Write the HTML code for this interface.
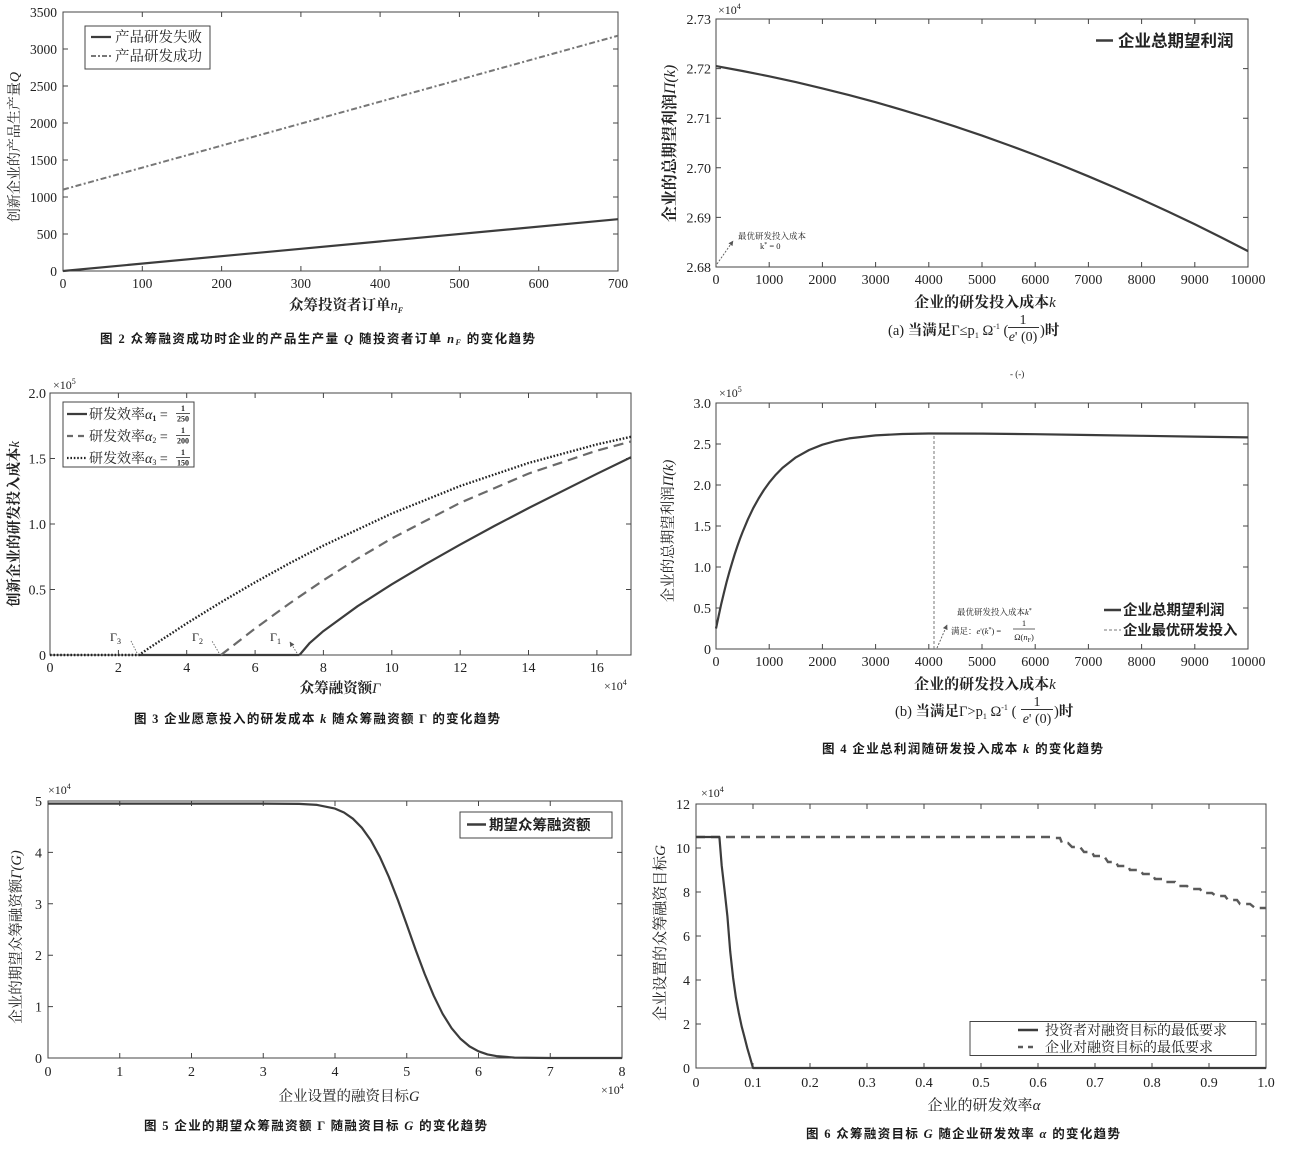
<!DOCTYPE html>
<html><head><meta charset="utf-8">
<style>
html,body{margin:0;padding:0;background:#fff;}
svg{display:block;}
text{font-family:"Liberation Serif","Noto Serif CJK SC",serif;fill:#222;}
.tk{font-size:14px;}
.tk1{font-size:13.5px;}
.cap{font-family:"Liberation Serif","Noto Sans CJK SC",sans-serif;font-weight:bold;font-size:12.5px;fill:#1a1a1a;}
.ax{fill:none;stroke:#444;stroke-width:1;}
.sans{font-family:"Liberation Sans","Noto Sans CJK SC",sans-serif;font-weight:bold;}
.it{font-style:italic;}
.ln{fill:none;stroke:#3c3c3c;stroke-width:2.2;stroke-linejoin:round;}
</style></head><body>
<svg width="1298" height="1164" viewBox="0 0 1298 1164" xmlns="http://www.w3.org/2000/svg">
<defs>
<marker id="ah" markerWidth="5" markerHeight="5" refX="4.5" refY="2.5" orient="auto" markerUnits="userSpaceOnUse"><path d="M0,0 L5,2.5 L0,5 z" fill="#555"/></marker>
</defs>
<rect width="1298" height="1164" fill="#fff"/>

<!-- ================= Chart 1 ================= -->
<g>
<rect x="63" y="12" width="555" height="259" class="ax"/>
<path class="ax" d="M142.3 271v-5M221.6 271v-5M300.9 271v-5M380.1 271v-5M459.4 271v-5M538.7 271v-5M142.3 12v5M221.6 12v5M300.9 12v5M380.1 12v5M459.4 12v5M538.7 12v5M63 234h5M63 197h5M63 160h5M63 123h5M63 86h5M63 49h5M618 234h-5M618 197h-5M618 160h-5M618 123h-5M618 86h-5M618 49h-5"/>
<g class="tk1" text-anchor="end">
<text x="57" y="17">3500</text><text x="57" y="54">3000</text><text x="57" y="91">2500</text><text x="57" y="128">2000</text><text x="57" y="165">1500</text><text x="57" y="202">1000</text><text x="57" y="239">500</text><text x="57" y="276">0</text>
</g>
<g class="tk1" text-anchor="middle">
<text x="63" y="288">0</text><text x="142.3" y="288">100</text><text x="221.6" y="288">200</text><text x="300.9" y="288">300</text><text x="380.1" y="288">400</text><text x="459.4" y="288">500</text><text x="538.7" y="288">600</text><text x="618" y="288">700</text>
</g>
<path d="M63 189.6 L618 35.7" fill="none" stroke="#777" stroke-width="2" stroke-dasharray="6 2.5 2 2.5"/>
<path d="M63 271 L618 219.2" class="ln"/>
<rect x="85" y="26" width="125" height="43" fill="#fff" stroke="#444" stroke-width="1"/>
<path d="M91 37H111" stroke="#3c3c3c" stroke-width="2.2"/>
<path d="M91 56H111" stroke="#777" stroke-width="2" stroke-dasharray="5 2 2 2"/>
<text x="115" y="42" font-size="14.5">产品研发失败</text>
<text x="115" y="61" font-size="14.5">产品研发成功</text>
<text transform="translate(19,147) rotate(-90)" text-anchor="middle" font-size="14">创新企业的产品生产量<tspan class="it">Q</tspan></text>
<text x="346" y="310" text-anchor="middle" font-size="14.5" font-weight="bold">众筹投资者订单<tspan class="it" font-weight="normal">n</tspan><tspan class="it" font-size="8" dy="3">F</tspan></text>
<text class="cap" x="100" y="343" textLength="435">图 2 众筹融资成功时企业的产品生产量 <tspan class="it">Q</tspan> 随投资者订单 <tspan class="it">n</tspan><tspan class="it" font-size="8" dy="2">F</tspan><tspan dy="-2"> 的变化趋势</tspan></text>
</g>

<!-- ================= Chart 2 ================= -->
<g>
<rect x="716" y="19" width="532" height="248" class="ax"/>
<path class="ax" d="M769.2 267v-5M822.4 267v-5M875.6 267v-5M928.8 267v-5M982 267v-5M1035.2 267v-5M1088.4 267v-5M1141.6 267v-5M1194.8 267v-5M769.2 19v5M822.4 19v5M875.6 19v5M928.8 19v5M982 19v5M1035.2 19v5M1088.4 19v5M1141.6 19v5M1194.8 19v5M716 217.4h5M716 167.8h5M716 118.2h5M716 68.6h5M1248 217.4h-5M1248 167.8h-5M1248 118.2h-5M1248 68.6h-5"/>
<g class="tk" text-anchor="end">
<text x="711" y="24">2.73</text><text x="711" y="73.6">2.72</text><text x="711" y="123.2">2.71</text><text x="711" y="172.8">2.70</text><text x="711" y="222.4">2.69</text><text x="711" y="272">2.68</text>
</g>
<g class="tk" text-anchor="middle">
<text x="716" y="284">0</text><text x="769.2" y="284">1000</text><text x="822.4" y="284">2000</text><text x="875.6" y="284">3000</text><text x="928.8" y="284">4000</text><text x="982" y="284">5000</text><text x="1035.2" y="284">6000</text><text x="1088.4" y="284">7000</text><text x="1141.6" y="284">8000</text><text x="1194.8" y="284">9000</text><text x="1248" y="284">10000</text>
</g>
<text x="718" y="14" font-size="12" fill="#444">×10<tspan font-size="8" dy="-5">4</tspan></text>
<polyline class="ln" points="716,66.1 742.6,71 769.2,76.3 795.8,82.1 822.4,88.4 849,95.1 875.6,102.2 902.2,109.9 928.8,118 955.4,126.6 982,135.6 1008.6,145.1 1035.2,155 1061.8,165.4 1088.4,176.3 1115,187.6 1141.6,199.4 1168.2,211.6 1194.8,224.3 1221.4,237.5 1248,251.1"/>
<path d="M1096 40.5H1113" stroke="#3c3c3c" stroke-width="2.5"/>
<text x="1118" y="46.5" font-size="16.5" class="sans">企业总期望利润</text>
<text x="738" y="239" font-size="8.5" fill="#333">最优研发投入成本</text>
<text x="760" y="249" font-size="8.5" fill="#333">k<tspan font-size="6" dy="-3">*</tspan><tspan dy="3"> = 0</tspan></text>
<path d="M717 264 L733 241" fill="none" stroke="#555" stroke-width="0.9" stroke-dasharray="2 1.5" marker-end="url(#ah)"/>
<text transform="translate(675,143.5) rotate(-90)" text-anchor="middle" font-size="16" font-weight="bold">企业的总期望利润<tspan class="it" font-weight="normal">Π(k)</tspan></text>
<text x="985" y="307" text-anchor="middle" font-size="15" font-weight="bold">企业的研发投入成本<tspan class="it" font-weight="normal">k</tspan></text>
<text x="888" y="335" font-size="14.5">(a) <tspan font-weight="bold">当满足</tspan>Γ≤p<tspan font-size="8" dy="3">1</tspan><tspan dy="-3"> Ω</tspan><tspan font-size="8" dy="-6">-1</tspan><tspan dy="6"> (</tspan></text>
<text x="1023" y="324" font-size="14" text-anchor="middle">1</text>
<path d="M1008 327.5H1039" stroke="#333" stroke-width="0.9"/>
<text x="1023" y="341" font-size="14" text-anchor="middle"><tspan class="it">e</tspan>' (0)</text>
<text x="1040" y="335" font-size="14.5">)<tspan font-weight="bold">时</tspan></text>
</g>

<!-- ================= Chart 3 ================= -->
<g>
<rect x="50" y="393" width="581" height="262" class="ax"/>
<path class="ax" d="M118.4 655v-5M186.7 655v-5M255.1 655v-5M323.4 655v-5M391.8 655v-5M460.2 655v-5M528.5 655v-5M596.9 655v-5M118.4 393v5M186.7 393v5M255.1 393v5M323.4 393v5M391.8 393v5M460.2 393v5M528.5 393v5M596.9 393v5M50 589.5h5M50 524h5M50 458.5h5M631 589.5h-5M631 524h-5M631 458.5h-5"/>
<g class="tk" text-anchor="end">
<text x="46" y="398">2.0</text><text x="46" y="463.5">1.5</text><text x="46" y="529">1.0</text><text x="46" y="594.5">0.5</text><text x="46" y="660">0</text>
</g>
<g class="tk" text-anchor="middle">
<text x="50" y="672">0</text><text x="118.4" y="672">2</text><text x="186.7" y="672">4</text><text x="255.1" y="672">6</text><text x="323.4" y="672">8</text><text x="391.8" y="672">10</text><text x="460.2" y="672">12</text><text x="528.5" y="672">14</text><text x="596.9" y="672">16</text>
</g>
<text x="53" y="389" font-size="12" fill="#444">×10<tspan font-size="8" dy="-5">5</tspan></text>
<text x="604" y="690" font-size="12" fill="#444">×10<tspan font-size="8" dy="-5">4</tspan></text>
<path d="M138.9 655 H299.5" class="ln"/>
<polyline points="220.9,655 255.1,628.5 289.3,603.6 323.4,580.3 357.6,558.6 391.8,538.4 460.2,502.8 528.5,473.6 596.9,450.6 631,441.5" fill="none" stroke="#6a6a6a" stroke-width="2.2" stroke-dasharray="10 6"/>
<polyline points="50,655 138.9,655 152.5,645.8 186.7,623.4 220.9,602.3 255.1,582.3 289.3,563.4 323.4,545.6 391.8,513.5 460.2,486 528.5,463 596.9,444.4 631,436.8" fill="none" stroke="#222" stroke-width="2.4" stroke-dasharray="1.6 1.8"/>
<polyline class="ln" points="299.5,655 309.8,642.9 323.4,631.1 357.6,606.2 391.8,584.3 426,563.9 460.2,544.6 494.3,526 528.5,508.1 596.9,473.8 631,457.2"/>
<rect x="63" y="402" width="131" height="65" fill="#fff" stroke="#444" stroke-width="1"/>
<path d="M67 414H87" stroke="#3c3c3c" stroke-width="2.2"/>
<path d="M67 436H87" stroke="#6a6a6a" stroke-width="2.2" stroke-dasharray="6 5"/>
<path d="M67 458H87" stroke="#222" stroke-width="2.2" stroke-dasharray="1.6 1.8"/>
<text x="89" y="419" font-size="14">研发效率<tspan class="it">α</tspan><tspan font-size="8" font-weight="bold" dy="2">1</tspan><tspan dy="-2"> = </tspan></text>
<text x="89" y="441" font-size="14">研发效率<tspan class="it">α</tspan><tspan font-size="8" dy="2">2</tspan><tspan dy="-2"> = </tspan></text>
<text x="89" y="463" font-size="14">研发效率<tspan class="it">α</tspan><tspan font-size="8" dy="2">3</tspan><tspan dy="-2"> = </tspan></text>
<g font-size="8" font-weight="bold" text-anchor="middle">
<text x="183" y="411">1</text><text x="183" y="421.5">250</text>
<text x="183" y="433">1</text><text x="183" y="443.5">200</text>
<text x="183" y="455">1</text><text x="183" y="465.5">150</text>
</g>
<path d="M176 413.5H190M176 435.5H190M176 457.5H190" stroke="#222" stroke-width="0.8"/>
<text x="110" y="641" font-size="12">Γ<tspan font-size="8" dy="3">3</tspan></text>
<text x="192" y="641" font-size="12">Γ<tspan font-size="8" dy="3">2</tspan></text>
<text x="270" y="641" font-size="12">Γ<tspan font-size="8" dy="3">1</tspan></text>
<path d="M137 653 L131 641M219 653 L212 641M297 653 L290 642" fill="none" stroke="#666" stroke-width="0.9" stroke-dasharray="1.5 1.5" marker-end="url(#ah)"/>
<text transform="translate(19,524) rotate(-90)" text-anchor="middle" font-size="14.5" font-weight="bold">创新企业的研发投入成本<tspan class="it" font-weight="normal">k</tspan></text>
<text x="340" y="693" text-anchor="middle" font-size="14.5" font-weight="bold">众筹融资额<tspan class="it" font-weight="normal">Γ</tspan></text>
<text class="cap" x="134" y="723" textLength="366">图 3 企业愿意投入的研发成本 <tspan class="it">k</tspan> 随众筹融资额 Γ 的变化趋势</text>
</g>

<!-- ================= Chart 4 ================= -->
<g>
<text x="1010" y="377" font-size="9" fill="#888">- (-)</text>
<rect x="716" y="403" width="532" height="246" class="ax"/>
<path class="ax" d="M769.2 649v-5M822.4 649v-5M875.6 649v-5M928.8 649v-5M982 649v-5M1035.2 649v-5M1088.4 649v-5M1141.6 649v-5M1194.8 649v-5M769.2 403v5M822.4 403v5M875.6 403v5M928.8 403v5M982 403v5M1035.2 403v5M1088.4 403v5M1141.6 403v5M1194.8 403v5M716 608h5M716 567h5M716 526h5M716 485h5M716 444h5M1248 608h-5M1248 567h-5M1248 526h-5M1248 485h-5M1248 444h-5"/>
<g class="tk" text-anchor="end">
<text x="711" y="408">3.0</text><text x="711" y="449">2.5</text><text x="711" y="490">2.0</text><text x="711" y="531">1.5</text><text x="711" y="572">1.0</text><text x="711" y="613">0.5</text><text x="711" y="654">0</text>
</g>
<g class="tk" text-anchor="middle">
<text x="716" y="666">0</text><text x="769.2" y="666">1000</text><text x="822.4" y="666">2000</text><text x="875.6" y="666">3000</text><text x="928.8" y="666">4000</text><text x="982" y="666">5000</text><text x="1035.2" y="666">6000</text><text x="1088.4" y="666">7000</text><text x="1141.6" y="666">8000</text><text x="1194.8" y="666">9000</text><text x="1248" y="666">10000</text>
</g>
<text x="719" y="397" font-size="12" fill="#444">×10<tspan font-size="8" dy="-5">5</tspan></text>
<path d="M934 649 V433.5" stroke="#777" stroke-width="1" stroke-dasharray="3 2"/>
<polyline class="ln" points="716,628.5 718.7,615.7 721.3,603.7 724,592.5 726.6,582 729.3,572.2 732,563.1 734.6,554.5 737.3,546.4 739.9,539 742.6,532 747.9,519.3 753.2,508.2 758.6,498.5 763.9,490 769.2,482.6 775.9,474.6 782.5,467.9 795.8,457.4 809.1,450 822.4,444.7 835.7,441 849,438.4 875.6,435.4 902.2,434 928.8,433.5 982,433.6 1035.2,434.2 1088.4,435 1141.6,435.8 1194.8,436.6 1248,437.4"/>
<text x="957" y="615" font-size="8.5" fill="#333">最优研发投入成本<tspan class="it">k</tspan><tspan font-size="6" dy="-3">*</tspan></text>
<text x="951" y="634" font-size="8.5" fill="#333">满足：<tspan class="it">e</tspan>'(<tspan class="it">k</tspan><tspan font-size="6" dy="-3">*</tspan><tspan dy="3">) =</tspan></text>
<text x="1024" y="626" font-size="8.5" text-anchor="middle" fill="#333">1</text>
<path d="M1013 629H1035" stroke="#333" stroke-width="0.7"/>
<text x="1024" y="640" font-size="8.5" text-anchor="middle" fill="#333">Ω(<tspan class="it">n</tspan><tspan font-size="6" dy="2">F</tspan><tspan dy="-2">)</tspan></text>
<path d="M937 648 L947 625" fill="none" stroke="#555" stroke-width="0.9" stroke-dasharray="2 1.5" marker-end="url(#ah)"/>
<path d="M1104 610H1121" stroke="#3c3c3c" stroke-width="2.4"/>
<path d="M1104 630H1121" stroke="#777" stroke-width="1" stroke-dasharray="3 2"/>
<text x="1123" y="615" font-size="14.5" class="sans">企业总期望利润</text>
<text x="1123" y="635" font-size="14.3" class="sans">企业最优研发投入</text>
<text transform="translate(673,531) rotate(-90)" text-anchor="middle" font-size="14.5">企业的总期望利润<tspan class="it">Π(k)</tspan></text>
<text x="985" y="689" text-anchor="middle" font-size="15" font-weight="bold">企业的研发投入成本<tspan class="it" font-weight="normal">k</tspan></text>
<text x="895" y="716" font-size="14.5">(b) <tspan font-weight="bold">当满足</tspan>Γ&gt;p<tspan font-size="8" dy="3">1</tspan><tspan dy="-3"> Ω</tspan><tspan font-size="8" dy="-6">-1</tspan><tspan dy="6"> (</tspan></text>
<text x="1037" y="706" font-size="14" text-anchor="middle">1</text>
<path d="M1021 709.5H1053" stroke="#333" stroke-width="0.9"/>
<text x="1037" y="723" font-size="14" text-anchor="middle"><tspan class="it">e</tspan>' (0)</text>
<text x="1054" y="716" font-size="14.5">)<tspan font-weight="bold">时</tspan></text>
<text class="cap" x="822" y="753" textLength="281">图 4 企业总利润随研发投入成本 <tspan class="it">k</tspan> 的变化趋势</text>
</g>

<!-- ================= Chart 5 ================= -->
<g>
<rect x="48" y="801" width="574" height="257" class="ax"/>
<path class="ax" d="M119.75 1058v-5M191.5 1058v-5M263.25 1058v-5M335 1058v-5M406.75 1058v-5M478.5 1058v-5M550.25 1058v-5M119.75 801v5M191.5 801v5M263.25 801v5M335 801v5M406.75 801v5M478.5 801v5M550.25 801v5M48 1006.6h5M48 955.2h5M48 903.8h5M48 852.4h5M622 1006.6h-5M622 955.2h-5M622 903.8h-5M622 852.4h-5"/>
<g class="tk" text-anchor="end">
<text x="42" y="806">5</text><text x="42" y="857.4">4</text><text x="42" y="908.8">3</text><text x="42" y="960.2">2</text><text x="42" y="1011.6">1</text><text x="42" y="1063">0</text>
</g>
<g class="tk" text-anchor="middle">
<text x="48" y="1076">0</text><text x="119.75" y="1076">1</text><text x="191.5" y="1076">2</text><text x="263.25" y="1076">3</text><text x="335" y="1076">4</text><text x="406.75" y="1076">5</text><text x="478.5" y="1076">6</text><text x="550.25" y="1076">7</text><text x="622" y="1076">8</text>
</g>
<text x="48" y="794" font-size="12" fill="#444">×10<tspan font-size="8" dy="-5">4</tspan></text>
<text x="601" y="1094" font-size="12" fill="#444">×10<tspan font-size="8" dy="-5">4</tspan></text>
<polyline class="ln" points="48,803.6 263.25,803.6 299.1,803.9 317.1,804.9 335,808.6 344,812.5 352.9,818.7 361.9,827.8 370.9,840.4 379.8,856.8 388.8,876.8 397.8,899.8 406.8,924.7 415.7,950 424.7,974 433.7,995.7 442.6,1013.8 451.6,1028.2 460.6,1038.9 469.5,1046.4 478.5,1051.3 487.5,1054.4 496.4,1056.1 514.4,1057.6 550.3,1058 622,1058"/>
<rect x="460" y="812" width="152" height="26" fill="#fff" stroke="#444" stroke-width="1"/>
<path d="M467 824.5H486" stroke="#3c3c3c" stroke-width="2.4"/>
<text x="489" y="830" font-size="14.5" class="sans">期望众筹融资额</text>
<text transform="translate(21,937) rotate(-90)" text-anchor="middle" font-size="14.5">企业的期望众筹融资额<tspan class="it">Γ(G)</tspan></text>
<text x="349" y="1101" text-anchor="middle" font-size="14.5">企业设置的融资目标<tspan class="it">G</tspan></text>
<text class="cap" x="144" y="1130" textLength="343">图 5 企业的期望众筹融资额 Γ 随融资目标 <tspan class="it">G</tspan> 的变化趋势</text>
</g>

<!-- ================= Chart 6 ================= -->
<g>
<rect x="696" y="804" width="570" height="264" class="ax"/>
<path class="ax" d="M753 1068v-5M810 1068v-5M867 1068v-5M924 1068v-5M981 1068v-5M1038 1068v-5M1095 1068v-5M1152 1068v-5M1209 1068v-5M753 804v5M810 804v5M867 804v5M924 804v5M981 804v5M1038 804v5M1095 804v5M1152 804v5M1209 804v5M696 1024h5M696 980h5M696 936h5M696 892h5M696 848h5M1266 1024h-5M1266 980h-5M1266 936h-5M1266 892h-5M1266 848h-5"/>
<g class="tk" text-anchor="end">
<text x="690" y="809">12</text><text x="690" y="853">10</text><text x="690" y="897">8</text><text x="690" y="941">6</text><text x="690" y="985">4</text><text x="690" y="1029">2</text><text x="690" y="1073">0</text>
</g>
<g class="tk" text-anchor="middle">
<text x="696" y="1087">0</text><text x="753" y="1087">0.1</text><text x="810" y="1087">0.2</text><text x="867" y="1087">0.3</text><text x="924" y="1087">0.4</text><text x="981" y="1087">0.5</text><text x="1038" y="1087">0.6</text><text x="1095" y="1087">0.7</text><text x="1152" y="1087">0.8</text><text x="1209" y="1087">0.9</text><text x="1266" y="1087">1.0</text>
</g>
<text x="701" y="797" font-size="12" fill="#444">×10<tspan font-size="8" dy="-5">4</tspan></text>
<path d="M696 837 H1050 L1055 838 H1060 L1062 843 H1068 L1072 847 H1080 L1084 852 H1092 L1094 856 H1104 L1108 862 H1116 L1118 866 H1128 L1130 870 H1140 L1143 874 H1152 L1155 879 H1163 L1165 882 H1175 L1178 886 H1187 L1190 889 H1200 L1203 893 H1212 L1216 896 H1225 L1228 900 H1237 L1240 904 H1250 L1255 908 H1266" fill="none" stroke="#5a5a5a" stroke-width="2.4" stroke-dasharray="9 6"/>
<polyline class="ln" points="696,837 719.4,837 721.7,865.6 724.5,889.8 727.4,916.2 730.2,951.4 733.1,977.8 735.9,997.6 738.8,1013 741.6,1026.2 744.5,1037.2 747.3,1048.2 750.2,1058.1 753,1068 1266,1068"/>
<rect x="970" y="1021.5" width="286" height="34" fill="#fff" stroke="#444" stroke-width="1"/>
<path d="M1018 1030H1038" stroke="#3c3c3c" stroke-width="2.4"/>
<path d="M1018 1047H1038" stroke="#5a5a5a" stroke-width="2.4" stroke-dasharray="5 5"/>
<text x="1045" y="1035" font-size="14">投资者对融资目标的最低要求</text>
<text x="1045" y="1052" font-size="14">企业对融资目标的最低要求</text>
<text transform="translate(665,933) rotate(-90)" text-anchor="middle" font-size="15">企业设置的众筹融资目标<tspan class="it">G</tspan></text>
<text x="984" y="1110" text-anchor="middle" font-size="15">企业的研发效率<tspan class="it">α</tspan></text>
<text class="cap" x="806" y="1138" textLength="314">图 6 众筹融资目标 <tspan class="it">G</tspan> 随企业研发效率 <tspan class="it">α</tspan> 的变化趋势</text>
</g>
</svg>
</body></html>
